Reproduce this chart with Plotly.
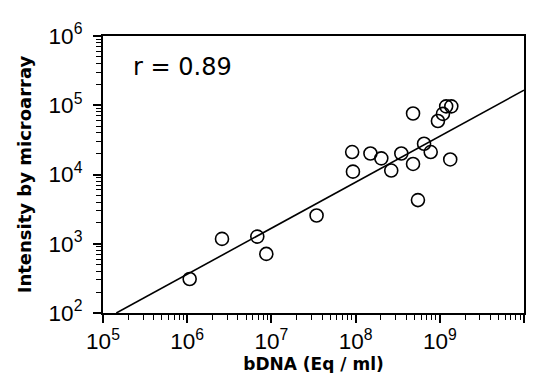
import plotly.graph_objects as go

# Data
bdna = [1.07e6, 2.59e6, 6.8e6, 8.7e6, 3.44e7, 9.1e7, 9.3e7, 1.5e8, 2.02e8, 2.65e8,
        3.49e8, 4.81e8, 4.81e8, 5.5e8, 6.5e8, 7.8e8, 1.33e9, 9.5e8, 1.09e9, 1.19e9, 1.37e9]
intensity = [310, 1175, 1268, 713, 2560, 21100, 11000, 20100, 17100, 11400,
             20100, 14200, 76000, 4270, 27800, 21100, 16500, 59200, 75000, 96400, 96400]

fit_x = [1.44e5, 1e10]
fit_y = [100, 1.65e5]

r_label = "r = 0.89"
x_title = "bDNA (Eq / ml)"
y_title = "Intensity by microarray"

FONT = "DejaVu Sans"
TICKFONT = "Liberation Sans"

fig = go.Figure()
fig.add_trace(go.Scatter(x=fit_x, y=fit_y, mode="lines",
                         line=dict(color="black", width=1.6), showlegend=False,
                         cliponaxis=True))
fig.add_trace(go.Scatter(x=bdna, y=intensity, mode="markers",
                         marker=dict(symbol="circle-open", size=13, color="black",
                                     line=dict(width=1.6, color="black")),
                         showlegend=False, cliponaxis=False))

axis_common = dict(
    type="log", dtick=1, exponentformat="power", showgrid=False, zeroline=False,
    showline=True, linecolor="black", linewidth=2, mirror=True,
    ticks="outside", ticklen=8, tickwidth=1.5, tickcolor="black",
    tickfont=dict(family=TICKFONT, size=18, color="black"),
    minor=dict(ticks="outside", ticklen=5, tickwidth=1.2, tickcolor="black",
               dtick="D1", showgrid=False),
)

fig.update_xaxes(range=[5, 10], **axis_common, ticklabelstandoff=0,
                 title=dict(text=f"<b>{x_title}</b>", font=dict(family=FONT, size=17, color="black"),
                            standoff=0))
fig.update_yaxes(range=[2, 6], **axis_common, ticklabelstandoff=7,
                 title=dict(text=f"<b>{y_title}</b>", font=dict(family=FONT, size=18, color="black"),
                            standoff=12))

fig.add_annotation(x=0.066, y=0.887, xref="paper", yref="paper", text=r_label,
                   showarrow=False, xanchor="left", yanchor="middle",
                   font=dict(family=FONT, size=24, color="black"))

fig.update_layout(
    width=537, height=373,
    margin=dict(l=95, r=21, t=23, b=68),
    paper_bgcolor="white", plot_bgcolor="white",
    font=dict(family=FONT, color="black"),
)

fig.write_html("out.html")
